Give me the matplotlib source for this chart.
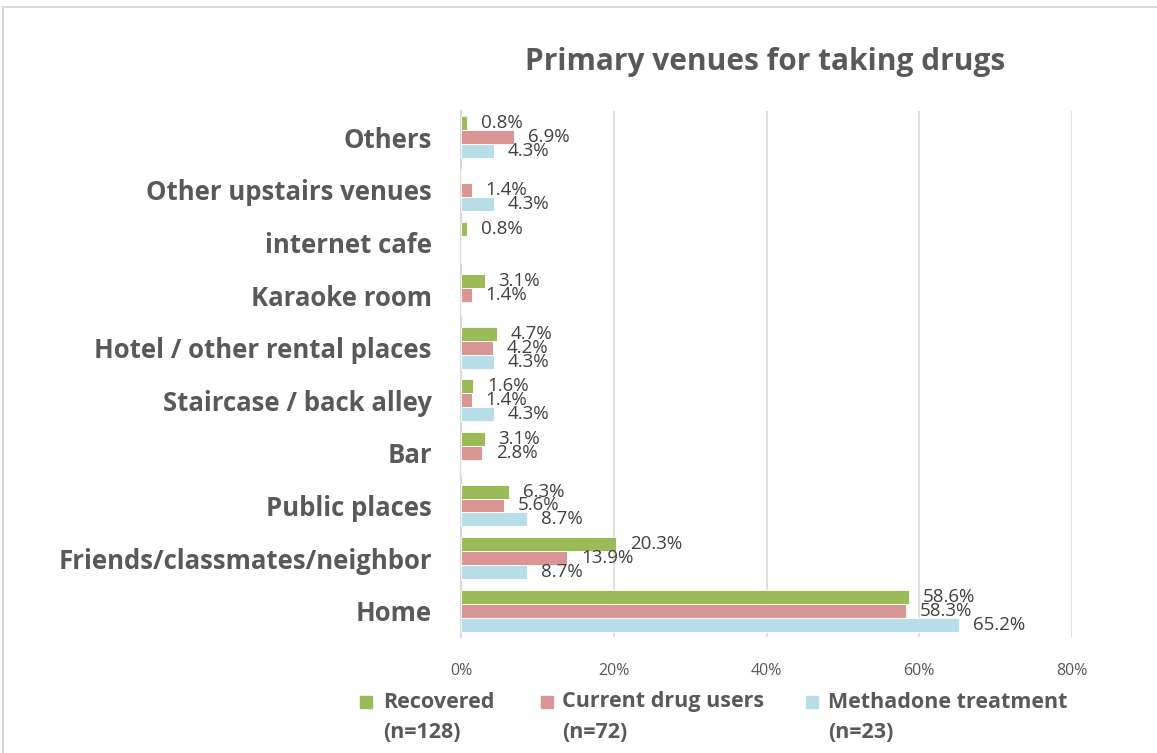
import matplotlib.pyplot as plt
import numpy as np
from matplotlib.patches import Rectangle

venues = ['Home', 'Friends/classmates/neighbor', 'Public places', 'Bar',
          'Staircase / back alley', 'Hotel / other rental places',
          'Karaoke room', 'internet cafe', 'Other upstairs venues', 'Others']
recovered = [58.6, 20.3, 6.3, 3.1, 1.6, 4.7, 3.1, 0.8, 0.0, 0.8]
current_users = [58.3, 13.9, 5.6, 2.8, 1.4, 4.2, 1.4, 0.0, 1.4, 6.9]
methadone = [65.2, 8.7, 8.7, 0.0, 4.3, 4.3, 0.0, 0.0, 4.3, 4.3]
group_names = ['Recovered\n(n=128)', 'Current drug users\n(n=72)',
               'Methadone treatment\n(n=23)']
xticks = [0, 20, 40, 60, 80]

colors = ['#9BBB59', '#D99694', '#B7DEE8']
text_gray = '#595959'
plt.rcParams['font.family'] = ['Open Sans', 'DejaVu Sans']

W, H = 1157, 753
fig = plt.figure(figsize=(W / 100, H / 100), dpi=100)
ax = fig.add_axes([461 / W, 1 - 637 / H, (1072 - 461) / W, (637 - 111) / H])

y = np.arange(len(venues))
h = 0.266
series = [recovered, current_users, methadone]
offsets = [h, 0, -h]
for vals, off, col in zip(series, offsets, colors):
    bars = ax.barh(y + off, vals, height=h, color=col, edgecolor='white', linewidth=0.6, zorder=3)
    for b, v in zip(bars, vals):
        if v > 0:
            ax.annotate(f'{v:.1f}%', (b.get_width(), b.get_y() + b.get_height() / 2),
                        xytext=(10, 0), textcoords='offset points', va='center', ha='left',
                        fontsize=13.5, color='#404040', zorder=4)

ax.set_xlim(0, 80)
ax.set_ylim(-0.5, len(venues) - 0.5)
ax.set_xticks(xticks)
ax.set_xticklabels([f'{t}%' for t in xticks], fontsize=11.5, color=text_gray)
ax.set_yticks(y)
ax.set_yticklabels(venues, fontsize=18.5, fontweight='bold', color=text_gray)
ax.tick_params(axis='both', length=0)
ax.tick_params(axis='x', pad=19)
ax.tick_params(axis='y', pad=21)
ax.grid(axis='x', color='#D9D9D9', linewidth=1.2, zorder=0)
for s in ['top', 'right', 'bottom']:
    ax.spines[s].set_visible(False)
ax.spines['left'].set_color('#D9D9D9')
ax.spines['left'].set_linewidth(1.5)

fig.text(765 / W, 1 - 62 / H, 'Primary venues for taking drugs', ha='center', va='center',
         fontsize=21.5, fontweight='bold', color=text_gray)

# legend below the plot, two lines per entry with the swatch on the first line
swatch_x = [360, 541, 806]
text_x = [383, 562, 828]
for sx, tx, col, name in zip(swatch_x, text_x, colors, group_names):
    fig.patches.append(Rectangle((sx / W, 1 - 708 / H), 12 / W, 12 / H,
                                 transform=fig.transFigure, color=col))
    first, second = name.split('\n')
    fig.text(tx / W, 1 - 702 / H, first, ha='left', va='center', fontsize=15.5,
             fontweight='bold', color=text_gray)
    fig.text(tx / W, 1 - 733 / H, second, ha='left', va='center', fontsize=15.5,
             fontweight='bold', color=text_gray)

fig.patches.append(Rectangle((3 / W, -0.1), 1.2, 1 - 7 / H + 0.1, transform=fig.transFigure,
                             fill=False, edgecolor='#D9D9D9', linewidth=1.5))

fig.savefig('out.png', dpi=100)
